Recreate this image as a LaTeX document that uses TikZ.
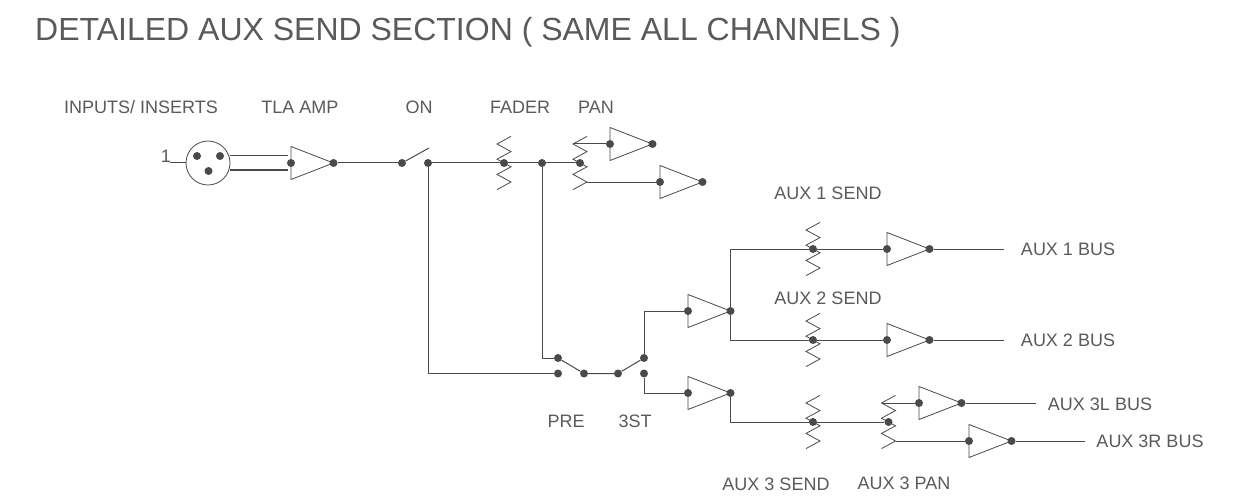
\documentclass[tikz,border=0pt]{standalone}
\usepackage{fontspec}
\setmainfont{Liberation Sans}
\definecolor{ink}{HTML}{4A4A4A}
\definecolor{txt}{HTML}{5A5A5A}
\tikzset{
  wire/.style={draw=ink,line width=1pt},
  thin wire/.style={draw=ink,line width=0.8pt},
  dot/.style={circle,fill=ink,draw=none,minimum size=8pt,inner sep=0pt},
  lbl/.style={text=txt,font=\fontsize{18}{20}\selectfont,anchor=base,inner sep=0pt},
  ttl/.style={text=txt,font=\fontsize{32}{35}\selectfont,anchor=base west,inner sep=0pt}
}
% amp: name, x, y
\newcommand{\ampl}[3]{%
  \node[dot] (#1-in) at (#2,#3) {};
  \node[dot] (#1-out) at (#2+42.5,#3) {};
  \draw[thin wire,line join=round] (#2,#3-16.5) -- (#2+42.5,#3) -- (#2,#3+16.5) -- cycle;
}
% zigzag: name, x, y (8 points centred)
\newcommand{\zig}[3]{%
  \node[dot] (#1) at (#2,#3) {};
  \coordinate (#1-top) at (#2-7,#3-19);
  \coordinate (#1-bot) at (#2+7,#3+19);
  \draw[thin wire,line join=miter] (#2+7,#3-26.6) -- (#2-7,#3-19) -- (#2+7,#3-11.4) -- (#2-7,#3-3.8) -- (#2+7,#3+3.8) -- (#2-7,#3+11.4) -- (#2+7,#3+19) -- (#2-7,#3+26.6);
}
\begin{document}
\begin{tikzpicture}[x=1pt,y=-1pt]
\useasboundingbox (0,0) rectangle (1237,500);
\fill[white] (0,0) rectangle (1237,500);
\node[ttl] (title) at (35,41) {DETAILED AUX SEND SECTION ( SAME ALL CHANNELS )};
\node[lbl] (l1) at (141,114) {INPUTS/ INSERTS};
\node[lbl] (l2) at (300,114) {TLA AMP};
\node[lbl] (l3) at (419,114) {ON};
\node[lbl] (l4) at (520,114) {FADER};
\node[lbl] (l5) at (596,114) {PAN};
\node[lbl] (l6) at (166,163) {1};
\node[lbl] (l7) at (828,199) {AUX 1 SEND};
\node[lbl] (l8) at (828,304) {AUX 2 SEND};
\node[lbl] (l9) at (1068,255) {AUX 1 BUS};
\node[lbl] (l10) at (1068,346) {AUX 2 BUS};
\node[lbl] (l11) at (1100,410) {AUX 3L BUS};
\node[lbl] (l12) at (1150,447) {AUX 3R BUS};
\node[lbl] (l13) at (566,427) {PRE};
\node[lbl] (l14) at (635,427) {3ST};
\node[lbl] (l15) at (776,490) {AUX 3 SEND};
\node[lbl] (l16) at (904,489) {AUX 3 PAN};
% XLR
\node[circle,thin wire,draw,minimum size=44pt,inner sep=0pt] (xlr) at (208,163) {};
\node[dot] (p1) at (197,156) {};
\node[dot] (p2) at (220,156) {};
\node[dot] (p3) at (208.5,171) {};
\coordinate (one) at (170,163);
\coordinate (xa) at (230,156);
\coordinate (xb) at (230,170);
\ampl{a1}{291}{163}
\ampl{a2}{610}{144}
\ampl{a3}{660}{182}
\ampl{a4}{688}{311}
\ampl{a5}{688}{393}
\ampl{a6}{887}{249}
\ampl{a7}{887}{340}
\ampl{a8}{919}{403}
\ampl{a9}{969}{441}
\zig{fad}{504}{163}
\zig{pan}{580}{163}
\zig{s1}{813}{249}
\zig{s2}{813}{340}
\zig{s3}{813}{422}
\zig{pan3}{888.5}{422}
\node[dot] (on1) at (402,163) {};
\node[dot] (on2) at (428,163) {};
\coordinate (onarm) at (429,148);
\node[dot] (tee) at (542,163) {};
\node[dot] (sw1) at (558,358) {};
\node[dot] (sw2) at (558,373.5) {};
\node[dot] (sw3) at (584,373.5) {};
\node[dot] (sw4) at (618,373.5) {};
\node[dot] (sw5) at (644,358) {};
\node[dot] (sw6) at (644,373.5) {};
\coordinate (e1) at (1004,249);
\coordinate (e2) at (1004,340);
\coordinate (e3) at (1036,403);
\coordinate (e4) at (1085,441);
% connectors
\draw[wire] (one) -- (xlr);
\draw[wire] (xa) -- (a1-in.north west |- xa);
\draw[wire] (xb) -- (a1-in.south west |- xb);
\draw[wire] (a1-out) -- (on1);
\draw[wire] (on1) -- (onarm);
\draw[wire] (on2) -- (fad) -- (tee) -- (pan);
\draw[wire] (on2) |- (sw2);
\draw[wire] (tee) |- (sw1);
\draw[wire] (sw1) -- (sw3) -- (sw4) -- (sw5);
\draw[wire] (sw5) |- (a4-in);
\draw[wire] (sw6) |- (a5-in);
\draw[wire] (pan-top) -- (a2-in);
\draw[wire] (pan-bot) -- (a3-in);
\draw[wire] (a4-out) |- (s1);
\draw[wire] (a4-out) |- (s2);
\draw[wire] (a5-out) |- (s3);
\draw[wire] (s1) -- (a6-in);
\draw[wire] (s2) -- (a7-in);
\draw[wire] (s3) -- (pan3);
\draw[wire] (a6-out) -- (e1);
\draw[wire] (a7-out) -- (e2);
\draw[wire] (pan3-top) -- (a8-in);
\draw[wire] (pan3-bot) -- (a9-in);
\draw[wire] (a8-out) -- (e3);
\draw[wire] (a9-out) -- (e4);
\end{tikzpicture}
\end{document}
